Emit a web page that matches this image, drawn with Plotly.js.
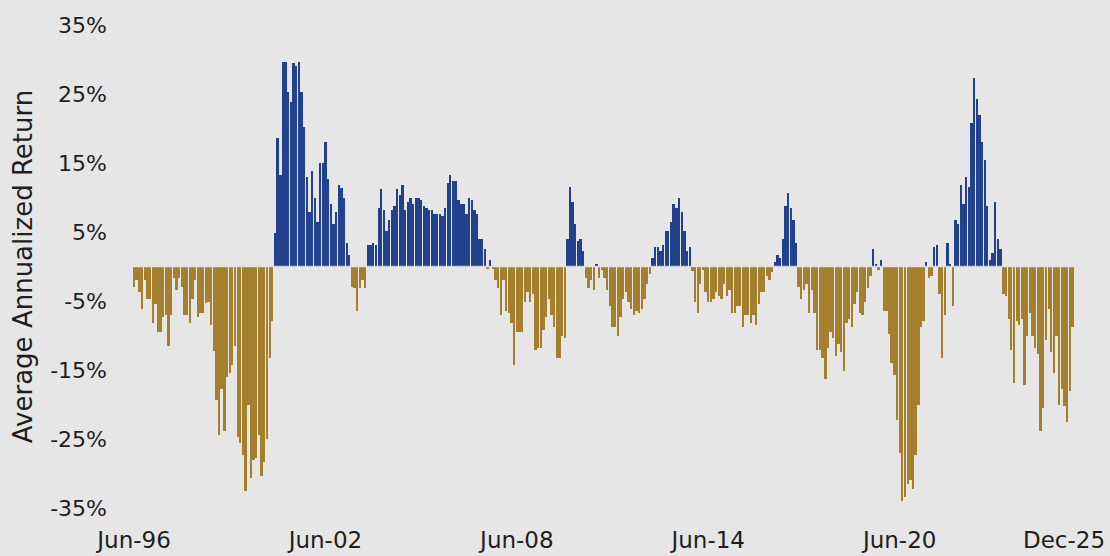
<!DOCTYPE html>
<html><head><meta charset="utf-8">
<script src="https://cdn.plot.ly/plotly-3.0.1.min.js"></script>
<style>html,body{margin:0;padding:0;background:#e6e6e6}#chart{width:1110px;height:556px}</style>
</head><body><div id="chart"></div>
<script>
// First month of the series (Jun-1996), monthly observations
const startYear = 1996, startMonth = 6;

const returns1996to2001 = [-2.9,-2.0,-3.7,-6.2,-2.0,-4.7,-4.7,-8.2,-5.5,-9.5,-9.5,-7.3,-7.1,-11.5,-7.0,-1.7,-3.4,-1.7,-3.0,-7.0,-7.0,-8.2,-4.7,-2.0,-7.3,-6.8,-6.8,-5.3,-5.1,-8.5,-12.2,-19.4,-24.4,-17.8,-23.9,-16.0,-15.5,-14.3,-11.5,-24.7,-25.6,-27.3,-32.6,-20.0,-30.7,-28.1,-27.8,-24.4,-30.4,-28.4,-25.0,-13.3,-7.9,4.9,18.6,13.3,29.7,29.7,25.3,23.8];
const returns2001to2006 = [29.5,29.1,29.7,25.3,20.2,13.0,7.9,13.9,10.0,6.4,15.0,15.0,18.1,12.7,9.1,6.1,7.9,11.8,11.4,10.0,3.4,1.6,-2.9,-3.1,-6.5,-3.1,-2.0,-3.1,3.1,3.1,3.4,3.1,8.5,11.2,8.2,5.2,6.7,8.2,8.8,11.2,10.3,11.8,8.2,9.4,10.0,9.1,10.0,10.0,9.7,8.8,8.5,8.2,8.2,7.6,7.6,7.6,7.3,8.5,12.1,13.3];
const returns2006to2011 = [12.4,12.4,9.7,9.1,9.1,7.6,10.0,9.7,8.2,7.6,4.0,4.0,2.5,-0.4,1.0,-0.4,-2.0,-3.1,-7.1,-2.0,-6.5,-6.8,-8.2,-14.3,-9.5,-9.5,-9.5,-5.1,-3.7,-5.1,-4.0,-12.1,-11.8,-11.8,-9.2,-7.3,-4.7,-7.1,-8.8,-13.3,-13.3,-10.1,-10.4,4.0,11.5,9.4,6.1,3.7,4.0,2.2,-1.7,-3.1,-2.0,-3.4,0.3,-1.7,-0.5,-1.7,-3.4,-5.7];
const returns2011to2016 = [-8.8,-8.8,-10.1,-7.3,-4.7,-3.7,-5.1,-6.2,-7.1,-6.5,-6.8,-6.2,-4.7,-2.6,-1.1,1.3,2.8,2.8,2.2,3.1,5.2,5.2,6.4,9.1,8.5,10.0,7.9,5.2,2.2,2.8,-0.6,-5.1,-6.8,-2.6,-0.5,-3.7,-5.1,-5.1,-4.7,-3.7,-4.3,-4.7,-2.6,-4.3,-3.4,-6.8,-6.8,-5.7,-5.7,-8.8,-7.1,-7.1,-8.2,-7.1,-8.5,-5.4,-3.7,-3.7,-1.4,-2.0];
const returns2016to2021 = [-0.8,0.7,1.6,1.3,4.0,8.8,10.6,8.5,6.7,3.4,-2.9,-4.7,-3.4,-2.6,-6.8,-3.4,-6.8,-12.1,-12.1,-13.3,-16.3,-11.8,-9.5,-10.4,-13.0,-11.3,-12.4,-15.2,-8.2,-7.6,-8.8,-5.4,-3.7,-6.8,-7.1,-5.1,-3.1,-1.4,2.5,0.4,-0.5,1.0,-6.5,-6.5,-9.8,-14.0,-15.7,-22.3,-27.1,-34.0,-33.4,-31.5,-31.0,-32.3,-27.3,-20.0,-8.8,-7.9,0.7,-1.7];
const returns2021to2025 = [-1.4,2.8,3.1,-4.0,-13.3,-7.1,3.4,0.3,-5.7,6.7,6.1,11.8,9.1,13.0,11.5,20.8,27.3,24.3,21.9,18.1,15.4,8.8,1.0,1.9,9.4,4.0,2.5,-4.0,-4.3,-7.6,-12.1,-16.9,-7.9,-8.5,-7.6,-17.2,-10.1,-6.8,-10.1,-11.8,-12.7,-23.9,-20.5,-10.7,-6.2,-12.4,-15.5,-10.1,-20.0,-17.8,-20.2,-22.6,-18.1,-8.8];

const tickLabels = ['Jun-96','Jun-02','Jun-08','Jun-14','Jun-20','Dec-25'];
const tickDates  = ['1996-06-01','2002-06-01','2008-06-01','2014-06-01','2020-06-01','2025-12-01'];
const yTicks = [-35,-25,-15,-5,5,15,25,35];
const yTickLabels = ['-35%','-25%','-15%','-5%','5%','15%','25%','35%'];

const values = [].concat(returns1996to2001, returns2001to2006, returns2006to2011,
                         returns2011to2016, returns2016to2021, returns2021to2025);
const months = values.map((v, i) => {
  const t = startMonth - 1 + i;
  const y = startYear + Math.floor(t / 12);
  const m = (t % 12) + 1;
  return y + '-' + String(m).padStart(2, '0') + '-01';
});

const POS = '#22418C', NEG = '#A47F2E';
const MONTH_MS = 30.44 * 86400000;

const trace = {
  type: 'bar',
  x: months,
  y: values,
  width: 0.88 * MONTH_MS,
  marker: { color: values.map(v => v >= 0 ? POS : NEG), line: { width: 0 } },
  hovertemplate: '%{x|%b-%y}: %{y:.1f}%<extra></extra>'
};

const font = 'DejaVu Sans, sans-serif';
const ink = '#1e1e1e';
const lastIdx = tickLabels.length - 1;

const layout = {
  width: 1110, height: 556,
  paper_bgcolor: '#e6e6e6', plot_bgcolor: '#e6e6e6',
  margin: { l: 108, r: 20, t: 25, b: 48 },
  showlegend: false,
  bargap: 0,
  font: { family: font, color: ink },
  xaxis: {
    type: 'date',
    range: ['1995-08-08', '2026-05-20'],
    tickvals: tickDates.slice(0, lastIdx), ticktext: tickLabels.slice(0, lastIdx),
    ticks: 'outside', ticklen: 11, tickcolor: 'rgba(0,0,0,0)',
    tickfont: { family: font, size: 23, color: ink },
    showgrid: false, zeroline: false, showline: false
  },
  yaxis: {
    range: [-35, 35],
    tickvals: yTicks, ticktext: yTickLabels,
    tickfont: { family: font, size: 22, color: ink },
    showgrid: false, zeroline: false, showline: false,
    title: { text: 'Average Annualized Return', font: { family: font, size: 26, color: ink }, standoff: 10 },
    automargin: false
  },
  // the final date label sits at the axis end, nudged inward so it stays on the canvas
  annotations: [{
    x: tickDates[lastIdx], xref: 'x', y: -0.066, yref: 'paper',
    text: tickLabels[lastIdx], showarrow: false,
    xanchor: 'right', xshift: 32, yanchor: 'middle',
    font: { family: font, size: 23, color: ink }
  }],
  shapes: [{
    type: 'line', xref: 'paper', yref: 'y', layer: 'above',
    x0: 0.022, x1: 0.987, y0: 0, y1: 0,
    line: { color: 'rgba(235,228,214,0.85)', width: 1.5 }
  }]
};

Plotly.newPlot('chart', [trace], layout, { displayModeBar: false, staticPlot: true });
</script>
</body></html>
